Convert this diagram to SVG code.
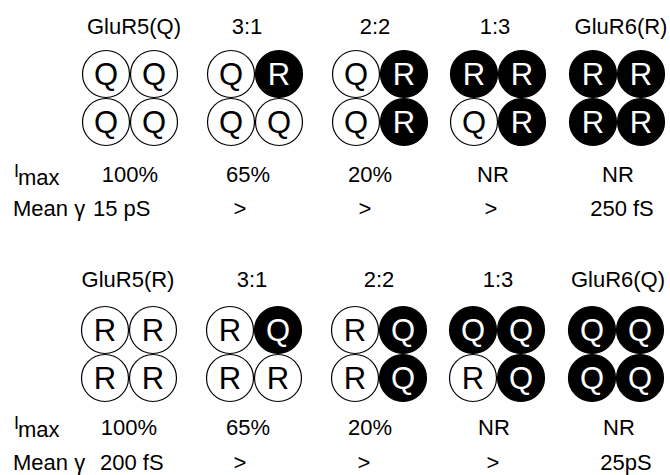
<svg xmlns="http://www.w3.org/2000/svg" width="670" height="475" viewBox="0 0 670 475">
<style>
text{font-family:"Liberation Sans",Arial,Helvetica,sans-serif;fill:#000}
.lb{font-size:22px;text-anchor:middle}
.ls{font-size:22px}
.w{fill:#fff;stroke:#000;stroke-width:1.2}
.b{fill:#000;stroke:#000;stroke-width:1.2}
.tw{font-size:31px;text-anchor:middle;fill:#000}
.tb{font-size:31px;text-anchor:middle;fill:#fff}
</style>
<rect width="670" height="475" fill="#fff"/>

<!-- TOP PANEL -->
<g id="top-labels">
<text class="lb" x="134" y="34">GluR5(Q)</text>
<text class="lb" x="247" y="34">3:1</text>
<text class="lb" x="375" y="34">2:2</text>
<text class="lb" x="495" y="34">1:3</text>
<text class="lb" x="621" y="34">GluR6(R)</text>
</g>

<g id="top-g1">
<circle class="w" cx="106" cy="74" r="23.5"/><text class="tw" x="106" y="85">Q</text>
<circle class="w" cx="154" cy="74" r="23.5"/><text class="tw" x="154" y="85">Q</text>
<circle class="w" cx="106" cy="122" r="23.5"/><text class="tw" x="106" y="133">Q</text>
<circle class="w" cx="154" cy="122" r="23.5"/><text class="tw" x="154" y="133">Q</text>
</g>
<g id="top-g2">
<circle class="w" cx="231" cy="74" r="23.5"/><text class="tw" x="231" y="85">Q</text>
<circle class="b" cx="279" cy="74" r="23.5"/><text class="tb" x="279" y="85">R</text>
<circle class="w" cx="231" cy="122" r="23.5"/><text class="tw" x="231" y="133">Q</text>
<circle class="w" cx="279" cy="122" r="23.5"/><text class="tw" x="279" y="133">Q</text>
</g>
<g id="top-g3">
<circle class="w" cx="356" cy="74" r="23.5"/><text class="tw" x="356" y="85">Q</text>
<circle class="b" cx="404" cy="74" r="23.5"/><text class="tb" x="404" y="85">R</text>
<circle class="w" cx="356" cy="122" r="23.5"/><text class="tw" x="356" y="133">Q</text>
<circle class="b" cx="404" cy="122" r="23.5"/><text class="tb" x="404" y="133">R</text>
</g>
<g id="top-g4">
<circle class="b" cx="474" cy="74" r="23.5"/><text class="tb" x="474" y="85">R</text>
<circle class="b" cx="522" cy="74" r="23.5"/><text class="tb" x="522" y="85">R</text>
<circle class="w" cx="474" cy="122" r="23.5"/><text class="tw" x="474" y="133">Q</text>
<circle class="b" cx="522" cy="122" r="23.5"/><text class="tb" x="522" y="133">R</text>
</g>
<g id="top-g5">
<circle class="b" cx="593" cy="74" r="23.5"/><text class="tb" x="593" y="85">R</text>
<circle class="b" cx="641" cy="74" r="23.5"/><text class="tb" x="641" y="85">R</text>
<circle class="b" cx="593" cy="122" r="23.5"/><text class="tb" x="593" y="133">R</text>
<circle class="b" cx="641" cy="122" r="23.5"/><text class="tb" x="641" y="133">R</text>
</g>

<g id="top-imax">
<text x="14" y="177" style="font-size:18px">I</text><text class="ls" x="18" y="185">max</text>
<text class="lb" x="130" y="182">100%</text>
<text class="lb" x="248" y="182">65%</text>
<text class="lb" x="370" y="182">20%</text>
<text class="lb" x="493" y="182">NR</text>
<text class="lb" x="618" y="182">NR</text>
</g>
<g id="top-mean">
<text class="ls" x="13" y="216">Mean γ</text>
<text class="ls" x="93" y="216">15 pS</text>
<text class="lb" x="240" y="216">&gt;</text>
<text class="lb" x="365" y="216">&gt;</text>
<text class="lb" x="491" y="216">&gt;</text>
<text class="lb" x="622" y="216">250 fS</text>
</g>

<!-- BOTTOM PANEL -->
<g id="bottom-labels">
<text class="lb" x="128" y="287">GluR5(R)</text>
<text class="lb" x="252" y="287">3:1</text>
<text class="lb" x="379" y="287">2:2</text>
<text class="lb" x="498" y="287">1:3</text>
<text class="lb" x="618" y="287">GluR6(Q)</text>
</g>

<g id="bot-g1">
<circle class="w" cx="105" cy="330" r="23.5"/><text class="tw" x="105" y="341">R</text>
<circle class="w" cx="153" cy="330" r="23.5"/><text class="tw" x="153" y="341">R</text>
<circle class="w" cx="105" cy="378" r="23.5"/><text class="tw" x="105" y="389">R</text>
<circle class="w" cx="153" cy="378" r="23.5"/><text class="tw" x="153" y="389">R</text>
</g>
<g id="bot-g2">
<circle class="w" cx="230" cy="330" r="23.5"/><text class="tw" x="230" y="341">R</text>
<circle class="b" cx="278" cy="330" r="23.5"/><text class="tb" x="278" y="341">Q</text>
<circle class="w" cx="230" cy="378" r="23.5"/><text class="tw" x="230" y="389">R</text>
<circle class="w" cx="278" cy="378" r="23.5"/><text class="tw" x="278" y="389">R</text>
</g>
<g id="bot-g3">
<circle class="w" cx="355" cy="330" r="23.5"/><text class="tw" x="355" y="341">R</text>
<circle class="b" cx="403" cy="330" r="23.5"/><text class="tb" x="403" y="341">Q</text>
<circle class="w" cx="355" cy="378" r="23.5"/><text class="tw" x="355" y="389">R</text>
<circle class="b" cx="403" cy="378" r="23.5"/><text class="tb" x="403" y="389">Q</text>
</g>
<g id="bot-g4">
<circle class="b" cx="473" cy="330" r="23.5"/><text class="tb" x="473" y="341">Q</text>
<circle class="b" cx="521" cy="330" r="23.5"/><text class="tb" x="521" y="341">Q</text>
<circle class="w" cx="473" cy="378" r="23.5"/><text class="tw" x="473" y="389">R</text>
<circle class="b" cx="521" cy="378" r="23.5"/><text class="tb" x="521" y="389">Q</text>
</g>
<g id="bot-g5">
<circle class="b" cx="592" cy="330" r="23.5"/><text class="tb" x="592" y="341">Q</text>
<circle class="b" cx="640" cy="330" r="23.5"/><text class="tb" x="640" y="341">Q</text>
<circle class="b" cx="592" cy="378" r="23.5"/><text class="tb" x="592" y="389">Q</text>
<circle class="b" cx="640" cy="378" r="23.5"/><text class="tb" x="640" y="389">Q</text>
</g>

<g id="bottom-imax">
<text x="14" y="429" style="font-size:18px">I</text><text class="ls" x="18" y="437">max</text>
<text class="lb" x="129" y="435">100%</text>
<text class="lb" x="248" y="435">65%</text>
<text class="lb" x="370" y="435">20%</text>
<text class="lb" x="494" y="435">NR</text>
<text class="lb" x="619" y="435">NR</text>
</g>
<g id="bottom-mean">
<text class="ls" x="13" y="470">Mean γ</text>
<text class="ls" x="100" y="470">200 fS</text>
<text class="lb" x="240" y="470">&gt;</text>
<text class="lb" x="364" y="470">&gt;</text>
<text class="lb" x="493" y="470">&gt;</text>
<text class="lb" x="626" y="470">25pS</text>
</g>

<g id="connectors"/>
</svg>
